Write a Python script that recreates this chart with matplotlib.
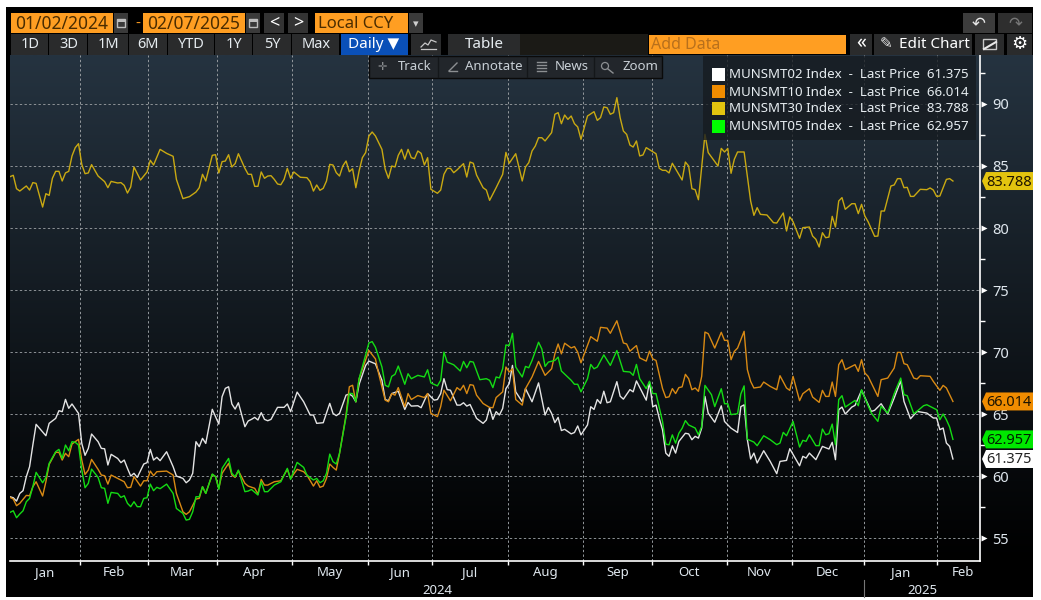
import numpy as np
import matplotlib
matplotlib.use("Agg")
import matplotlib.pyplot as plt
from matplotlib.patches import Rectangle, Polygon, Circle

plt.rcParams['font.family'] = ['Noto Sans', 'DejaVu Sans']

# ---- data: session number (business days since 02 Jan 2024) and index value ----
gold_sessions = [0,1,2,3,5,6,7,8,10,11,12,13,14,15,16,17,18,19,20,21,22,23,24,25,27,29,30,31,33,34,35,36,37,38,40,42,43,44,46,48,50,51,53,55,57,58,59,60,62,63,64,65,66,67,68,69,70,72,73,74,75,76,77,78,79,80,81,82,83,84,85,86,87,89,91,92,93,94,95,96,97,98,99,100,101,102,103,104,105,106,107,108,109,110,111,112,114,115,116,117,118,119,120,121,122,123,124,125,126,127,128,129,131,132,133,134,135,136,137,139,140,141,142,143,145,146,147,
149,151,152,153,155,157,158,159,160,161,162,163,164,166,167,168,169,170,171,172,173,174,175,177,179,180,181,182,183,184,185,186,187,188,189,190,191,192,193,194,195,198,199,200,201,202,203,206,207,208,209,210,211,213,214,217,218,219,220,221,222,223,225,227,228,229,230,232,234,235,237,238,239,240,242,243,245,246,247,248,249,250,251,252,253,254,255,256,258,259,260,261,262,263,265,266,267,268,270,271,272,273,274,275,276,277,279,281,282,283,284,285,287,288,289]
gold_values = [84.14,84.25,83.17,82.98,83.39,83.06,83.66,83.60,81.69,82.77,82.63,84.01,84.57,84.57,83.79,84.44,84.57,85.81,86.48,86.80,85.13,84.38,84.44,85.11,84.19,83.74,83.25,83.76,83.63,83.66,83.44,82.82,83.31,84.92,83.87,84.52,85.46,85.08,86.34,86.02,85.78,83.92,82.37,82.53,82.90,83.25,84.33,83.79,85.86,85.91,84.44,85.35,85.40,85.91,84.92,85.19,85.99,84.81,84.33,84.33,83.36,83.36,84.52,84.01,84.19,84.22,83.92,83.55,83.49,83.92,84.81,84.01,84.52,84.09,84.06,83.74,82.98,83.47,83.04,83.20,83.79,85.13,85.08,84.46,84.19,85.00,85.40,84.54,84.78,83.25,84.60,85.67,86.08,87.42,87.74,87.42,86.34,84.73,84.01,85.00,84.92,85.86,86.34,85.54,86.34,85.67,85.59,86.21,86.02,85.08,85.67,83.12,82.80,83.06,84.33,84.81,84.81,84.46,84.68,85.19,84.11,85.32,85.22,84.27,83.25,83.06,82.23,
83.25,84.33,86.10,85.22,85.99,83.79,84.92,85.27,86.21,86.61,87.28,87.28,87.02,87.69,89.17,89.30,88.41,89.11,88.76,89.03,88.41,88.15,87.15,89.03,89.38,88.68,88.90,89.76,89.70,89.17,89.30,90.51,88.90,87.82,87.55,86.69,86.53,87.02,85.81,85.89,86.48,85.99,84.81,84.65,84.65,84.44,85.22,83.87,85.32,85.00,83.17,83.09,82.28,87.55,86.08,85.00,86.42,86.13,86.42,84.41,85.54,86.13,86.13,82.18,81.02,81.64,81.10,81.05,80.43,80.40,81.21,79.76,80.89,80.51,79.17,80.03,80.08,79.35,79.09,78.47,79.62,79.22,79.27,80.94,80.08,82.18,82.45,81.51,81.96,81.96,81.16,81.91,80.97,80.51,79.33,79.35,81.37,81.37,83.39,83.47,83.98,83.98,83.25,83.28,82.55,82.55,83.12,83.09,83.23,83.06,82.55,82.58,83.92,83.98,83.788]

white_sessions = [0,1,2,3,4,5,6,7,8,11,12,14,15,16,17,18,19,21,22,23,24,25,27,28,29,30,31,33,34,35,36,37,38,39,41,42,43,44,45,46,48,50,51,53,54,55,56,57,58,59,60,62,63,64,65,66,67,68,69,70,72,73,74,75,76,77,78,79,80,82,84,85,86,88,90,92,93,94,96,98,99,100,101,103,104,
105,106,107,109,110,112,114,115,116,117,119,121,122,123,125,126,128,130,131,132,133,134,135,137,138,139,140,141,143,145,146,147,148,149,150,151,152,153,154,155,157,158,160,162,164,165,166,167,168,169,170,172,173,174,175,177,178,179,180,181,182,183,184,186,187,188,190,191,192,195,196,197,198,199,200,201,202,203,204,205,207,208,
209,210,211,212,213,214,216,218,219,221,223,224,225,226,227,228,229,231,233,235,236,238,239,242,243,244,245,247,249,251,252,253,254,255,256,258,259,261,264,265,267,269,271,273,274,276,278,281,283,284,285,286,287,288,289]
white_values = [58.33,58.25,57.98,58.60,58.82,59.95,60.75,62.50,64.17,63.25,64.25,64.65,65.27,65.19,66.18,65.46,65.81,65.05,62.63,61.67,62.23,63.39,62.77,62.23,62.20,60.89,61.75,61.42,61.08,61.29,60.62,60.00,60.22,59.89,60.97,61.08,62.15,61.29,61.51,61.24,61.96,60.75,60.00,59.81,59.46,59.68,60.22,62.77,62.37,63.04,62.63,65.38,64.78,64.19,66.40,67.07,67.20,65.81,65.40,65.91,63.98,64.44,64.57,64.73,64.52,65.11,64.57,64.46,64.57,65.54,65.54,65.81,65.19,66.77,65.99,64.92,64.92,64.25,64.30,65.86,65.05,64.87,65.05,66.53,66.61,
66.44,65.99,67.40,68.92,69.27,69.05,67.72,66.17,66.07,66.65,66.84,65.37,65.93,65.64,65.67,65.51,66.65,66.12,66.17,66.65,67.85,66.97,66.92,65.72,65.72,65.91,65.64,65.77,64.65,64.25,64.52,65.51,64.57,65.19,64.92,65.45,67.05,67.45,68.92,66.79,65.99,67.05,65.99,67.51,64.92,65.53,65.05,64.31,64.73,63.67,63.77,63.40,63.51,64.04,63.32,64.12,65.59,65.37,66.17,65.85,66.84,65.91,65.99,67.61,66.44,66.20,66.97,66.79,67.67,66.12,67.59,65.59,65.72,64.65,63.72,61.85,61.59,62.44,61.85,62.79,63.45,63.40,
62.93,63.20,63.06,63.87,66.42,65.07,64.34,65.66,64.40,63.86,63.51,65.60,65.74,62.93,61.37,61.85,61.05,62.04,61.18,60.19,61.18,61.26,62.20,60.83,61.59,61.45,61.85,61.32,62.39,62.18,62.72,61.32,65.35,65.56,65.00,65.56,65.70,66.91,65.21,65.30,65.83,65.00,66.29,67.69,66.02,64.62,65.21,65.08,64.68,64.68,63.74,63.87,62.66,62.39,61.375]

orange_sessions = [0,1,2,3,4,5,6,7,8,10,11,12,14,15,16,17,18,19,21,22,23,24,25,27,28,29,30,31,33,34,35,36,37,38,40,41,42,43,44,45,48,50,51,53,54,55,57,58,59,60,62,63,64,65,67,68,69,70,72,73,75,76,77,78,79,81,83,85,86,88,90,91,93,94,95,96,97,98,99,100,101,103,104,
105,106,107,110,112,113,115,116,117,118,119,121,122,123,125,127,128,129,131,132,133,135,137,138,139,140,141,142,143,145,147,148,149,151,152,153,154,155,157,158,160,162,164,166,167,168,169,170,172,173,174,175,178,180,181,183,184,186,188,189,190,192,193,195,196,197,198,200,201,202,203,204,205,206,207,208,
209,210,211,212,213,214,216,218,219,220,221,222,223,225,226,227,228,230,231,233,235,236,238,239,240,242,243,245,246,248,249,250,251,252,253,254,255,256,259,260,261,262,263,265,266,267,269,271,272,273,274,275,277,278,279,282,283,285,286,287,289]
orange_values = [58.28,58.15,57.61,57.80,58.12,58.44,58.41,59.14,59.54,58.39,59.54,60.94,61.91,61.91,61.29,61.83,61.56,62.58,62.96,61.29,60.13,60.48,61.34,60.54,60.08,60.03,59.35,60.08,59.81,59.68,59.54,59.06,59.09,59.95,59.19,59.62,59.62,60.40,60.03,60.35,60.40,60.08,58.60,57.12,56.91,57.12,58.15,58.20,59.14,58.60,60.13,59.95,59.01,60.22,61.02,60.08,59.89,60.43,59.41,59.19,59.01,58.55,59.73,59.27,59.27,59.54,59.62,60.54,59.81,60.54,60.35,60.08,59.19,59.62,59.09,59.19,59.81,60.97,60.70,60.48,61.83,64.92,67.20,
67.32,65.99,67.85,70.12,69.45,68.25,66.12,65.99,66.65,66.52,67.13,65.59,66.65,66.17,66.49,66.33,66.65,65.05,64.79,65.59,66.92,66.07,67.13,66.92,67.32,66.65,67.37,67.32,66.52,65.85,65.53,65.51,66.33,66.79,68.79,68.39,68.65,66.17,65.72,67.05,67.99,69.24,68.12,68.65,69.85,70.65,69.85,70.71,70.33,70.44,69.99,69.13,71.24,70.87,71.99,71.93,71.51,72.52,70.73,70.65,70.07,70.52,69.53,69.27,70.07,69.45,69.32,67.05,66.33,66.39,67.05,66.65,67.13,67.19,68.20,67.85,
66.96,67.10,66.83,68.04,71.61,71.48,70.32,71.59,70.94,70.94,69.38,70.05,70.32,71.67,68.58,67.63,67.10,67.18,67.58,67.23,66.96,68.09,67.10,66.91,68.04,66.08,66.64,67.04,66.37,65.94,66.91,66.42,66.42,67.58,66.42,68.98,69.38,68.58,68.98,68.44,69.38,68.31,68.04,66.96,66.42,67.77,67.90,68.71,69.97,69.97,69.06,68.98,67.90,67.82,68.09,68.04,67.63,66.91,67.31,67.10,66.014]

green_sessions = [0,1,2,3,4,5,6,7,8,10,11,12,14,15,16,17,18,19,20,21,22,23,24,25,27,28,29,30,31,33,34,35,36,37,38,39,40,41,42,43,44,45,46,48,50,51,53,54,55,56,57,58,59,60,62,63,64,65,67,68,69,70,72,73,74,76,77,78,79,81,83,85,86,88,90,91,93,94,95,96,97,98,99,100,101,103,104,
105,106,107,110,111,112,114,115,116,117,118,119,121,122,123,125,127,128,129,131,132,133,134,136,138,139,140,141,142,144,146,147,148,149,150,151,152,153,154,155,157,158,159,160,162,163,164,165,167,168,169,172,173,174,175,177,178,179,180,182,184,186,188,190,191,192,193,195,196,197,198,200,201,202,203,204,205,206,207,208,
210,211,212,213,215,216,218,219,220,221,223,224,225,226,228,229,231,233,235,236,237,238,240,242,243,244,245,247,248,249,250,251,252,253,254,255,256,259,260,261,262,264,266,267,269,271,273,274,275,277,278,280,281,284,285,286,287,288,289]
green_values = [57.07,57.20,56.64,56.94,57.20,57.93,58.20,59.14,60.30,59.46,59.89,61.02,61.96,62.15,61.42,62.50,62.04,62.77,62.72,62.50,60.48,59.06,59.41,60.56,59.89,59.06,59.01,57.80,58.68,58.60,58.28,58.41,57.80,57.53,57.93,57.53,57.53,58.20,58.25,59.35,58.82,59.09,58.98,59.35,58.60,57.39,56.99,56.45,56.51,57.12,58.33,58.33,59.14,58.60,60.16,59.95,58.92,60.62,61.42,60.22,59.95,60.48,58.74,58.79,58.92,58.47,59.54,58.74,58.74,59.27,59.54,60.62,59.73,61.10,60.70,60.08,59.68,59.81,59.46,59.62,60.22,61.77,61.16,60.97,61.83,64.78,66.67,
66.65,65.99,67.85,70.73,70.84,70.39,68.79,67.32,67.19,68.04,68.20,68.87,67.40,68.25,67.85,68.12,67.99,68.57,67.51,67.27,67.72,69.99,69.19,68.97,68.47,69.24,68.73,69.24,69.19,67.77,67.85,67.72,67.13,67.99,67.91,68.65,70.57,70.52,71.51,68.79,67.99,68.84,68.73,69.32,70.79,70.25,68.84,69.19,69.32,69.59,68.47,67.72,67.40,67.40,66.79,67.85,69.00,68.65,68.79,69.77,68.92,70.12,68.44,68.39,68.12,69.00,67.85,67.05,67.64,66.65,66.65,64.39,62.57,62.52,63.32,62.65,63.45,63.85,64.47,64.12,
63.87,63.33,64.00,67.31,66.56,65.60,67.04,65.83,65.83,64.95,65.03,66.62,67.27,62.97,62.74,62.45,63.25,62.93,62.53,62.66,63.52,63.25,64.41,62.34,62.88,62.80,63.33,62.45,62.45,63.79,63.33,63.41,64.19,62.53,66.16,66.48,65.56,66.10,65.67,66.96,66.29,65.08,64.41,65.62,65.08,66.64,67.90,66.56,66.48,65.03,65.22,65.67,65.75,65.35,64.54,65.00,64.54,63.95,62.957]

month_starts = [21.5,42.3,63.4,86.4,109.7,129.3,152.6,175.6,196.7,219.7,239.6,261.7,284.1]
month_labels = ['Jan','Feb','Mar','Apr','May','Jun','Jul','Aug','Sep','Oct','Nov','Dec','Jan','Feb']
y_ticks = [55,60,65,70,75,80,85,90]
series_names = ['MUNSMT02','MUNSMT10','MUNSMT30','MUNSMT05']
last_prices = [61.375,66.014,83.788,62.957]
line_colors = ['#e4e4e4','#d98a14','#c9a912','#14dc14']
swatch_colors = ['#ffffff','#f08c00','#e3c40f','#00ff00']
range_buttons = ['1D','3D','1M','6M','YTD','1Y','5Y','Max']
ORANGE = '#ff9e22'

W, H = 1041, 600
fig = plt.figure(figsize=(W/100, H/100), dpi=100, facecolor='white')

# chrome layer in pixel coordinates
bg = fig.add_axes([0, 0, 1, 1], zorder=0)
bg.set_xlim(0, W); bg.set_ylim(H, 0); bg.axis('off')
bg.add_patch(Rectangle((6, 7), 1027, 590, color='black', lw=0, zorder=0.1))
ramp = np.linspace(0, 1, 256).reshape(-1, 1, 1)
top = np.array([0x25, 0x33, 0x40]) / 255
grad = top.reshape(1, 1, 3) * (1 - ramp)
bg.imshow(grad, extent=(10, 1033, 561, 55), aspect='auto', interpolation='bilinear', zorder=0.5)
bg.set_xlim(0, W); bg.set_ylim(H, 0)

# main plot
L, R, T, B = 10, 980, 55, 561
ax = fig.add_axes([L/W, 1 - B/H, (R-L)/W, (B-T)/H], zorder=2)
ax.patch.set_alpha(0)
ax.set_xlim(0, 297.3)
ax.set_ylim(53.15, 93.95)
for s in ('top', 'left'):
    ax.spines[s].set_visible(False)
for s in ('right', 'bottom'):
    ax.spines[s].set_color('white'); ax.spines[s].set_linewidth(1.2)
ax.yaxis.tick_right()
ax.set_yticks(y_ticks)
ax.set_yticks(np.array(y_ticks) + 2.5, minor=True)
ax.set_xticks(month_starts)
ax.set_xticklabels([])
ax.tick_params(axis='y', which='major', length=0, pad=9, labelcolor='#dfe7ee', labelsize=10.5)
ax.tick_params(axis='y', which='minor', length=3.5, color='white', width=1)
ax.tick_params(axis='x', which='major', length=3, color='white', width=1)
ax.grid(True, axis='y', color='#8d9296', lw=0.7, ls=(0, (2.4, 2.4)))
ax.grid(True, axis='x', color='#959a9e', lw=0.7, ls=(0, (2.4, 2.4)))
ax.set_axisbelow(True)
ax.plot(np.full(len(y_ticks), 1.0045), y_ticks, ls='', marker='>', ms=4.5, color='white',
        mec='none', transform=ax.get_yaxis_transform(), clip_on=False)

all_s = [white_sessions, orange_sessions, gold_sessions, green_sessions]
all_v = [white_values, orange_values, gold_values, green_values]
for s, v, c in zip(all_s, all_v, line_colors):
    ax.plot(s, v, color=c, lw=1.0, solid_joinstyle='round', zorder=3)

# month labels centred between the month ticks
edges = [0] + month_starts
mids = [(a + b) / 2 for a, b in zip(edges[:-1], edges[1:])] + [292.0]
for m, lab in zip(mids, month_labels):
    ax.text(m, -0.022, lab, transform=ax.get_xaxis_transform(), ha='center', va='center',
            color='#dfe7ee', fontsize=9.5, clip_on=False)
bg.text(437, 590, '2024', color='#dfe7ee', fontsize=9.5, ha='center', va='center')
bg.text(922, 590, '2025', color='#dfe7ee', fontsize=9.5, ha='center', va='center')
bg.plot([864, 864], [580, 597], color='#777777', lw=0.8)

# chrome helpers
over = fig.add_axes([0, 0, 1, 1], zorder=3)
over.set_xlim(0, W); over.set_ylim(H, 0); over.axis('off'); over.patch.set_alpha(0)

def box(x0, x1, y0, y1, c, **kw):
    over.add_patch(Rectangle((x0, y0), x1-x0, y1-y0, facecolor=c, lw=kw.pop('lw', 0), **kw))

def label(x, y, s, c='#e6ecf0', fs=10.5, ha='center', **kw):
    over.text(x, y + 1, s, color=c, fontsize=fs, ha=ha, va='center', **kw)

def calendar(x, y):
    over.add_patch(Rectangle((x-4, y-4), 8, 8, fill=False, ec='#bdbdbd', lw=1))
    over.add_patch(Rectangle((x-4, y-4), 8, 2.5, color='#bdbdbd', lw=0))

# first toolbar row
box(11, 113, 13, 33, ORANGE)
label(62, 23, '01/02/2024', c='#4a2c00', fs=12.5)
box(114, 128, 13, 33, '#3a3a3a'); calendar(121, 23)
label(138, 23, '-', c=ORANGE, fs=11)
box(143, 245, 13, 33, ORANGE)
label(194, 23, '02/07/2025', c='#4a2c00', fs=12.5)
box(246, 260, 13, 33, '#3a3a3a'); calendar(253, 23)
box(264, 284, 13, 33, '#333333'); label(274, 22, '<', fs=13, c='white')
box(288, 308, 13, 33, '#333333'); label(298, 22, '>', fs=13, c='white')
box(315, 408, 13, 33, ORANGE)
label(318, 23, 'Local CCY', c='#4a2c00', fs=12, ha='left')
box(409, 423, 13, 33, '#3a3a3a'); label(416, 23, '▾', fs=8, c='#cfcfcf', family='DejaVu Sans')
box(963, 995, 13, 33, '#3c3c3c'); label(979, 22, '↶', fs=12, c='#e8e8e8', family='DejaVu Sans')
box(998, 1032, 13, 33, '#2e2e2e'); label(1015, 22, '↷', fs=12, c='#777777', family='DejaVu Sans')

# second toolbar row
btn_edges = [11, 49, 88, 129, 168, 215, 253, 292, 340]
for x0, x1, lab in zip(btn_edges[:-1], btn_edges[1:], range_buttons):
    box(x0, x1-1, 34, 55, '#2a2b2c')
    label((x0+x1)/2, 44, lab, fs=10.5)
box(341, 408, 34, 55, '#0a50b8')
label(374, 44, 'Daily ▼', fs=11, c='white')
box(411, 441, 34, 55, '#2a2b2c')
over.plot([421, 425, 428, 431, 436], [47, 43, 45, 40, 42], color='#c8c8c8', lw=0.9)
over.plot([421, 436], [49, 49], color='#c8c8c8', lw=0.9)
box(448, 520, 34, 55, '#2a2b2c'); label(484, 44, 'Table', fs=11)
box(520, 648, 34, 55, '#1b1a16')
box(649, 846, 35, 54, ORANGE); label(651, 44, 'Add Data', c='#b8701c', fs=11.5, ha='left')
box(850, 872, 34, 55, '#2a2b2c'); label(861, 42, '«', fs=14, c='white')
box(874, 972, 34, 55, '#2a2b2c')
label(886, 43, '✎', fs=11, c='#e8e8e8', family='DejaVu Sans')
label(934, 44, 'Edit Chart', fs=11, c='white')
box(975, 1004, 34, 55, '#2a2b2c'); over.add_patch(Rectangle((983, 39), 13, 10, fill=False, ec='#c8c8c8', lw=1))
over.plot([984, 996], [49, 42], color='#e8e8e8', lw=1.5)
box(1007, 1032, 34, 55, '#2a2b2c'); label(1019, 43, '⚙', fs=13, c='white', family='DejaVu Sans')

# chart tools strip
box(369, 662, 56, 78, '#22262b', edgecolor='#0a0a0a', lw=1)
for x in (438, 527, 594):
    over.plot([x, x], [57, 77], color='#14171a', lw=1)
label(382, 66, '✛', fs=8, c='#8c8f92', family='DejaVu Sans')
label(415, 66, 'Track', fs=9.5, c='#c9d0d6')
over.plot([449, 457], [71, 63], color='#8c8f92', lw=1); over.plot([449, 457], [71, 71], color='#8c8f92', lw=1)
label(494, 66, 'Annotate', fs=9.5, c='#c9d0d6')
for yy in (62, 65, 68, 71):
    over.plot([537, 546], [yy, yy], color='#8c8f92', lw=1)
label(572, 66, 'News', fs=9.5, c='#c9d0d6')
over.add_patch(Circle((605, 66), 3.5, fill=False, ec='#8c8f92', lw=0.9))
over.plot([608, 613], [69, 73], color='#8c8f92', lw=1)
label(640, 66, 'Zoom', fs=9.5, c='#c9d0d6')

# legend panel
box(703, 976, 56, 140, '#161b20', alpha=0.8)
for yy, nm, p, sw in zip((74, 91, 108, 126), series_names, last_prices, swatch_colors):
    box(712, 725, yy-6.5, yy+6.5, sw)
    label(729, yy, f'{nm} Index  -  Last Price  {p:.3f}', fs=9.6, c='#e6ecf0', ha='left')

# last-value tags sit at the price on the right axis
def tag(value, face, tc):
    y = over.transData.inverted().transform(ax.transData.transform((0, value)))[1]
    over.add_patch(Polygon([(982, y), (986, y-9), (1033, y-9), (1033, y+9), (986, y+9)],
                           closed=True, facecolor=face, lw=0, zorder=5))
    label(1009, y, f'{value:.3f}', c=tc, fs=10.5, zorder=6)

for p, face, tc in zip(last_prices, ['#ffffff', '#f08c00', '#e3c40f', '#00e800'],
                       ['#222222', '#1e1400', '#1e1400', '#002000']):
    tag(p, face, tc)

fig.savefig('out.png', dpi=100, facecolor='white')
